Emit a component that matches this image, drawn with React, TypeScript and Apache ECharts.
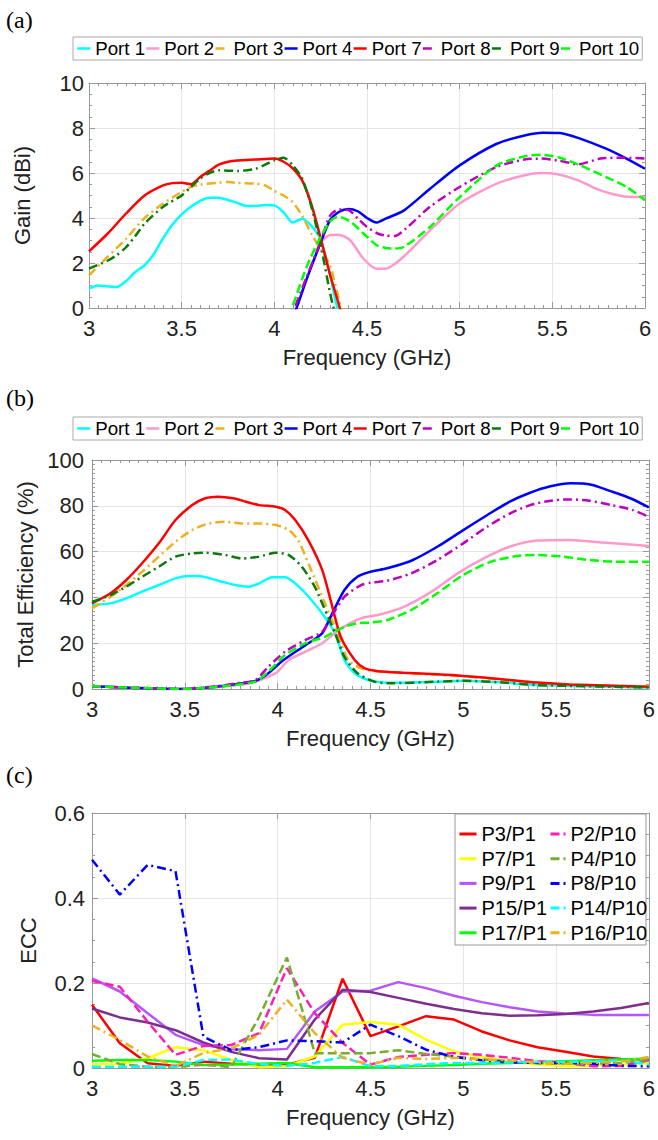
import React, { useEffect, useRef } from "react";
import * as echarts from "echarts";

const FONT = "'Liberation Sans', Arial, sans-serif";
const SERIF = "'Liberation Serif', 'Times New Roman', serif";
const AX = "#999999";
const GRIDC = "#e6e6e6";
const TXT = "#222222";

const PORTS = ["Port 1", "Port 2", "Port 3", "Port 4", "Port 7", "Port 8", "Port 9", "Port 10"];
const PORT_COLORS = ["#00FFFF", "#FF99CC", "#EDB120", "#0000FF", "#FF0000", "#BF00BF", "#0A7A0A", "#00FF00"];
const DASHED = [9, 4];
const DASHDOT = [9, 4, 2, 4];
const PORT_DASH: any[] = ["solid", "solid", DASHDOT, "solid", "solid", DASHDOT, DASHDOT, DASHED];

// ---------- (a) Gain (dBi) ----------
const gP1F = [3.0, 3.05, 3.1, 3.15, 3.2, 3.25, 3.3, 3.35, 3.4, 3.45, 3.5, 3.55, 3.6, 3.65, 3.7, 3.75, 3.8, 3.85, 3.9, 3.95, 4.0, 4.05, 4.1, 4.15, 4.2, 4.25, 4.3, 4.34, 4.4];
const gP1V = [0.86, 1.0, 0.96, 0.93, 1.2, 1.6, 1.9, 2.4, 3.1, 3.7, 4.16, 4.5, 4.76, 4.9, 4.9, 4.8, 4.67, 4.53, 4.53, 4.58, 4.56, 4.25, 3.8, 3.97, 3.65, 3.05, 1.5, 0.0, -1.5];
const gP2F = [4.05, 4.12, 4.175, 4.25, 4.3, 4.345, 4.41, 4.48, 4.55, 4.6, 4.64, 4.7, 4.84, 5.0, 5.2, 5.35, 5.44, 5.53, 5.64, 5.76, 5.89, 6.0];
const gP2V = [-1.5, 0.0, 1.3, 2.9, 3.24, 3.26, 3.0, 2.2, 1.75, 1.75, 1.9, 2.3, 3.45, 4.64, 5.53, 5.9, 6.0, 5.94, 5.67, 5.23, 4.96, 4.93];
const gP3F = [3.0, 3.1, 3.2, 3.3, 3.4, 3.5, 3.55, 3.6, 3.7, 3.75, 3.8, 3.9, 3.95, 4.0, 4.05, 4.1, 4.15, 4.2, 4.25, 4.3, 4.36, 4.4];
const gP3V = [1.45, 2.27, 3.08, 4.0, 4.64, 5.16, 5.38, 5.48, 5.57, 5.6, 5.56, 5.53, 5.45, 5.2, 5.0, 4.7, 4.1, 3.3, 2.6, 1.9, 0.0, -1.2];
const gP4F = [4.05, 4.12, 4.175, 4.25, 4.3, 4.35, 4.4, 4.45, 4.5, 4.55, 4.6, 4.7, 4.84, 5.0, 5.2, 5.35, 5.45, 5.54, 5.65, 5.79, 5.9, 6.0];
const gP4V = [-1.5, 0.0, 1.3, 2.9, 3.9, 4.28, 4.4, 4.3, 4.0, 3.8, 3.97, 4.34, 5.3, 6.34, 7.3, 7.67, 7.79, 7.78, 7.53, 7.08, 6.64, 6.19];
const gP7F = [3.0, 3.1, 3.2, 3.3, 3.4, 3.45, 3.5, 3.55, 3.6, 3.65, 3.7, 3.75, 3.8, 3.9, 4.0, 4.05, 4.1, 4.15, 4.2, 4.25, 4.3, 4.35, 4.4];
const gP7V = [2.52, 3.3, 4.2, 5.0, 5.45, 5.55, 5.57, 5.5, 5.82, 6.1, 6.37, 6.5, 6.56, 6.6, 6.64, 6.5, 6.2, 5.67, 4.6, 3.1, 1.5, 0.1, -1.5];
const gP8F = [4.05, 4.11, 4.175, 4.25, 4.3, 4.35, 4.4, 4.46, 4.5, 4.56, 4.6, 4.65, 4.71, 4.84, 5.0, 5.2, 5.35, 5.44, 5.53, 5.64, 5.76, 5.89, 6.0];
const gP8V = [-1.5, 0.0, 1.4, 2.95, 4.1, 4.38, 4.35, 3.9, 3.6, 3.3, 3.22, 3.2, 3.53, 4.5, 5.38, 6.27, 6.6, 6.64, 6.56, 6.39, 6.64, 6.68, 6.64];
const gP9F = [3.0, 3.1, 3.15, 3.2, 3.25, 3.3, 3.4, 3.5, 3.55, 3.6, 3.65, 3.7, 3.8, 3.9, 3.95, 4.0, 4.05, 4.1, 4.15, 4.2, 4.25, 4.3, 4.32, 4.4];
const gP9V = [1.75, 2.1, 2.35, 2.7, 3.2, 3.75, 4.5, 5.0, 5.38, 5.75, 6.0, 6.12, 6.09, 6.19, 6.37, 6.56, 6.68, 6.34, 5.75, 4.5, 2.8, 0.7, 0.0, -2.0];
const gP10F = [4.03, 4.095, 4.175, 4.24, 4.3, 4.345, 4.41, 4.48, 4.55, 4.6, 4.65, 4.7, 4.84, 5.0, 5.2, 5.35, 5.44, 5.54, 5.65, 5.79, 5.9, 6.0];
const gP10V = [-1.5, 0.0, 1.84, 3.0, 3.84, 4.06, 3.84, 3.32, 2.8, 2.67, 2.64, 2.72, 3.6, 4.93, 6.34, 6.74, 6.81, 6.68, 6.34, 5.82, 5.38, 4.79];

// ---------- (b) Total efficiency (%) ----------
const eP1F = [3.0, 3.1, 3.185, 3.27, 3.36, 3.45, 3.52, 3.57, 3.68, 3.77, 3.845, 3.9, 3.97, 4.04, 4.095, 4.15, 4.24, 4.31, 4.36, 4.415, 4.49, 4.59, 4.86, 5.0, 5.22, 5.4, 6.0];
const eP1V = [36.7, 37.4, 39.6, 42.5, 45.4, 48.3, 49.3, 49.3, 47.3, 45.4, 44.7, 46.1, 48.8, 48.8, 46.1, 41.8, 33, 24.3, 12.7, 6.9, 3.9, 2.7, 3.2, 3.6, 2.8, 1.7, 0.7];
const eP2F = [3.0, 3.2, 3.49, 3.67, 3.845, 3.99, 4.06, 4.15, 4.24, 4.33, 4.45, 4.54, 4.68, 4.83, 4.97, 5.11, 5.25, 5.4, 5.57, 5.75, 6.0];
const eP2V = [1.2, 0.6, 0.0, 0.8, 2.5, 6.9, 12.7, 16.3, 20, 25.8, 30.9, 32.3, 35.9, 42.5, 50.5, 57, 62.1, 64.8, 65.1, 64, 62.4];
const eP3F = [3.0, 3.1, 3.185, 3.27, 3.36, 3.45, 3.54, 3.63, 3.72, 3.81, 3.9, 3.99, 4.06, 4.11, 4.17, 4.255, 4.33, 4.38, 4.45, 4.54, 4.68, 4.86, 5.0, 5.22, 5.4, 5.57, 6.0];
const eP3V = [35.2, 40.3, 45.4, 51.2, 57.8, 64.3, 69.4, 72.3, 73, 72.3, 72.3, 71.6, 69.4, 65, 54, 37.4, 22.8, 12.7, 9, 7.8, 7.0, 6.2, 5.5, 4.0, 2.7, 1.9, 1.0];
const eP4F = [3.0, 3.2, 3.49, 3.67, 3.79, 3.88, 3.95, 4.02, 4.11, 4.18, 4.24, 4.29, 4.36, 4.43, 4.5, 4.59, 4.72, 4.86, 5.0, 5.13, 5.25, 5.36, 5.47, 5.58, 5.69, 5.79, 5.9, 6.0];
const eP4V = [1.2, 0.6, 0.0, 1.0, 2.3, 3.5, 6.9, 11.9, 17, 20.7, 24.3, 32.3, 43.2, 49, 51.2, 52.7, 56, 62.1, 69.4, 76, 81.8, 85.7, 88.5, 89.8, 89.2, 86.5, 83.3, 79.3];
const eP7F = [3.0, 3.1, 3.185, 3.27, 3.36, 3.45, 3.54, 3.61, 3.68, 3.76, 3.83, 3.9, 3.99, 4.04, 4.095, 4.165, 4.24, 4.29, 4.34, 4.415, 4.47, 4.54, 4.68, 4.86, 5.0, 5.22, 5.4, 5.57, 6.0];
const eP7V = [37.4, 41.8, 47.6, 54.9, 63.6, 73.8, 80.3, 83.3, 84, 83.3, 81.8, 80.3, 79.6, 78.2, 73.8, 65, 52, 37.4, 22.8, 12.7, 9, 7.8, 7.1, 6.4, 5.7, 4.2, 2.8, 2.0, 1.0];
const eP8F = [3.0, 3.2, 3.49, 3.67, 3.79, 3.88, 3.95, 4.04, 4.15, 4.24, 4.29, 4.36, 4.45, 4.5, 4.59, 4.72, 4.86, 5.0, 5.13, 5.25, 5.36, 5.47, 5.57, 5.68, 5.8, 5.91, 6.0];
const eP8V = [1.2, 0.6, 0.0, 1.2, 2.6, 3.9, 9.7, 16.3, 21.4, 25, 31.6, 40.3, 45.4, 46.4, 47.3, 50.5, 56.3, 63.6, 70.9, 76.6, 80.3, 82.2, 82.8, 82.2, 80.3, 78.2, 75.2];
const eP9F = [3.0, 3.1, 3.185, 3.27, 3.36, 3.45, 3.54, 3.61, 3.72, 3.81, 3.9, 3.99, 4.06, 4.13, 4.2, 4.24, 4.31, 4.36, 4.43, 4.52, 4.59, 4.86, 5.0, 5.22, 5.4, 6.0];
const eP9V = [38, 41, 44.7, 49, 53.4, 57.8, 59.2, 59.5, 58.5, 57, 57.8, 59.5, 58.5, 53.4, 44.7, 37.4, 24.3, 14, 6.9, 3.2, 2.5, 3.2, 3.6, 2.8, 1.7, 0.7];
const eP10F = [3.0, 3.2, 3.49, 3.67, 3.79, 3.88, 3.95, 4.04, 4.15, 4.255, 4.36, 4.43, 4.5, 4.59, 4.72, 4.86, 5.0, 5.15, 5.29, 5.4, 5.54, 5.68, 5.82, 6.0];
const eP10V = [1.2, 0.6, 0.0, 0.9, 2.0, 3.2, 7.6, 14.8, 20, 22.8, 27.2, 28.7, 29, 30.1, 34.5, 41.8, 49.8, 55.6, 58.1, 58.5, 57.8, 56.3, 55.6, 55.6];

// ---------- (c) ECC ----------
const eccFreq = [3.0, 3.15, 3.3, 3.45, 3.6, 3.75, 3.9, 4.05, 4.2, 4.35, 4.5, 4.65, 4.8, 4.95, 5.1, 5.25, 5.4, 5.55, 5.7, 5.85, 6.0];
const eccP3P1 = [0.149, 0.058, 0.011, 0.005, 0.015, 0.01, 0.008, 0.008, 0.024, 0.21, 0.075, 0.098, 0.122, 0.114, 0.086, 0.065, 0.049, 0.038, 0.027, 0.021, 0.02];
const eccP7P1 = [0.009, 0.01, 0.023, 0.049, 0.042, 0.019, 0.002, 0.004, 0.027, 0.102, 0.108, 0.102, 0.067, 0.039, 0.026, 0.016, 0.008, 0.004, 0.005, 0.008, 0.012];
const eccP9P1 = [0.211, 0.18, 0.129, 0.078, 0.054, 0.044, 0.042, 0.045, 0.133, 0.18, 0.182, 0.202, 0.188, 0.17, 0.155, 0.143, 0.133, 0.128, 0.125, 0.125, 0.125];
const eccP15P1 = [0.14, 0.119, 0.107, 0.089, 0.06, 0.038, 0.023, 0.02, 0.114, 0.184, 0.179, 0.165, 0.151, 0.139, 0.129, 0.123, 0.124, 0.127, 0.133, 0.141, 0.153];
const eccP17P1 = [0.017, 0.019, 0.019, 0.015, 0.007, 0.008, 0.01, 0.012, 0.002, 0.002, 0.002, 0.003, 0.005, 0.007, 0.01, 0.012, 0.014, 0.016, 0.018, 0.02, 0.022];
const eccP2P10 = [0.205, 0.191, 0.109, 0.031, 0.052, 0.054, 0.082, 0.235, 0.129, 0.059, 0.008, 0.026, 0.031, 0.035, 0.031, 0.024, 0.016, 0.012, 0.004, 0.005, 0.018];
const eccP4P10 = [0.033, 0.009, 0.003, 0.002, 0.008, 0.002, 0.12, 0.26, 0.035, 0.035, 0.035, 0.042, 0.033, 0.027, 0.02, 0.016, 0.012, 0.01, 0.01, 0.012, 0.02];
const eccP8P10 = [0.49, 0.408, 0.478, 0.463, 0.074, 0.042, 0.049, 0.065, 0.063, 0.06, 0.102, 0.075, 0.043, 0.026, 0.018, 0.013, 0.012, 0.012, 0.01, 0.005, 0.004];
const eccP14P10 = [0.003, 0.003, 0.003, 0.003, 0.019, 0.02, 0.009, 0.005, 0.012, 0.026, 0.004, 0.005, 0.009, 0.012, 0.012, 0.013, 0.014, 0.014, 0.016, 0.018, 0.008];
const eccP16P10 = [0.1, 0.066, 0.027, 0.005, 0.035, 0.046, 0.078, 0.161, 0.082, 0.024, 0.008, 0.024, 0.021, 0.024, 0.02, 0.018, 0.013, 0.01, 0.012, 0.015, 0.026];

const ECC_COL1 = ["P3/P1", "P7/P1", "P9/P1", "P15/P1", "P17/P1"];
const ECC_COL2 = ["P2/P10", "P4/P10", "P8/P10", "P14/P10", "P16/P10"];
const ECC_VALUES = [eccP3P1, eccP7P1, eccP9P1, eccP15P1, eccP17P1, eccP2P10, eccP4P10, eccP8P10, eccP14P10, eccP16P10];
const ECC_COLORS = ["#FF0000", "#FFFF00", "#B455FF", "#7E2F8E", "#00FF00", "#FF1DB4", "#77AC30", "#0000FF", "#00FFFF", "#EDB120"];
const ECC_DASH: any[] = ["solid", "solid", "solid", "solid", "solid", DASHED, DASHED, DASHDOT, DASHED, DASHDOT];

const GAIN_DATA = [[gP1F, gP1V], [gP2F, gP2V], [gP3F, gP3V], [gP4F, gP4V], [gP7F, gP7V], [gP8F, gP8V], [gP9F, gP9V], [gP10F, gP10V]];
const EFF_DATA = [[eP1F, eP1V], [eP2F, eP2V], [eP3F, eP3V], [eP4F, eP4V], [eP7F, eP7V], [eP8F, eP8V], [eP9F, eP9V], [eP10F, eP10V]];

const pairs = (f: number[], v: number[]) => f.map((x, i) => [x, v[i]]);

const GRIDS = [
  { left: 89, top: 83, width: 556, height: 225 },
  { left: 92, top: 460, width: 561, height: 229 },
  { left: 92, top: 813, width: 559, height: 255 },
];
const YCFG = [
  { min: 0, max: 10, interval: 2, name: "Gain (dBi)", gap: 56, margin: 5, minorSplit: 4 },
  { min: 0, max: 100, interval: 20, name: "Total Efficiency (%)", gap: 54, margin: 8, minorSplit: 10 },
  { min: 0, max: 0.6, interval: 0.2, name: "ECC", gap: 53, margin: 7, minorSplit: 4 },
];

function buildOption() {
  const xAxis: any[] = [];
  const yAxis: any[] = [];
  const tickLine = { color: AX, width: 1 };
  GRIDS.forEach((_, g) => {
    const xMinor = g < 2;
    xAxis.push({
      gridIndex: g, type: "value", min: 3, max: 6, interval: 0.5, position: "bottom",
      axisLine: { show: true, onZero: false, lineStyle: tickLine },
      axisTick: { show: true, inside: true, length: 6, lineStyle: tickLine },
      minorTick: { show: xMinor, splitNumber: 10, length: 3, lineStyle: tickLine },
      axisLabel: { fontSize: 22, color: TXT, margin: 9, fontFamily: FONT },
      splitLine: { show: true, lineStyle: { color: GRIDC, width: 1 } },
      name: "Frequency (GHz)", nameLocation: "middle", nameGap: 38,
      nameTextStyle: { fontSize: 22, color: TXT, fontFamily: FONT },
    });
    xAxis.push({
      gridIndex: g, type: "value", min: 3, max: 6, interval: 0.5, position: "top",
      axisLine: { show: true, onZero: false, lineStyle: tickLine },
      axisTick: { show: true, inside: true, length: 6, lineStyle: tickLine },
      minorTick: { show: xMinor, splitNumber: 10, length: 3, lineStyle: tickLine },
      axisLabel: { show: false }, splitLine: { show: false },
    });
    const c = YCFG[g];
    yAxis.push({
      gridIndex: g, type: "value", min: c.min, max: c.max, interval: c.interval, position: "left",
      axisLine: { show: true, onZero: false, lineStyle: tickLine },
      axisTick: { show: true, inside: true, length: 6, lineStyle: tickLine },
      minorTick: { show: true, splitNumber: c.minorSplit, length: 3, lineStyle: tickLine },
      axisLabel: { fontSize: 22, color: TXT, margin: c.margin, fontFamily: FONT },
      splitLine: { show: true, lineStyle: { color: GRIDC, width: 1 } },
      name: c.name, nameLocation: "middle", nameGap: c.gap, nameRotate: 90,
      nameTextStyle: { fontSize: 22, color: TXT, fontFamily: FONT },
    });
    yAxis.push({
      gridIndex: g, type: "value", min: c.min, max: c.max, interval: c.interval, position: "right",
      axisLine: { show: true, onZero: false, lineStyle: tickLine },
      axisTick: { show: true, inside: true, length: 6, lineStyle: tickLine },
      minorTick: { show: true, splitNumber: c.minorSplit, length: 3, lineStyle: tickLine },
      axisLabel: { show: false }, splitLine: { show: false },
    });
  });

  const series: any[] = [];
  GAIN_DATA.forEach(([f, v], i) => {
    series.push({
      name: PORTS[i], type: "line", xAxisIndex: 0, yAxisIndex: 0, data: pairs(f, v),
      showSymbol: false, symbol: "none", smooth: 0.25, clip: true,
      lineStyle: { color: PORT_COLORS[i], width: 2.5, type: PORT_DASH[i] },
      itemStyle: { color: PORT_COLORS[i] },
    });
  });
  EFF_DATA.forEach(([f, v], i) => {
    series.push({
      name: PORTS[i], type: "line", xAxisIndex: 2, yAxisIndex: 2, data: pairs(f, v),
      showSymbol: false, symbol: "none", smooth: 0.25, clip: true,
      lineStyle: { color: PORT_COLORS[i], width: 2.5, type: PORT_DASH[i] },
      itemStyle: { color: PORT_COLORS[i] },
    });
  });
  const eccNames = [...ECC_COL1, ...ECC_COL2];
  eccNames.forEach((n, i) => {
    series.push({
      name: n, type: "line", xAxisIndex: 4, yAxisIndex: 4, data: pairs(eccFreq, ECC_VALUES[i]),
      showSymbol: false, symbol: "none", clip: true,
      lineStyle: { color: ECC_COLORS[i], width: 2.5, type: ECC_DASH[i] },
      itemStyle: { color: ECC_COLORS[i] },
    });
  });

  const hiddenSymbol = { opacity: 0, borderWidth: 0, color: "rgba(0,0,0,0)" };
  const portLegend = (top: number) => ({
    data: PORTS, left: 73, top, orient: "horizontal", itemWidth: 13, itemHeight: 10, itemGap: 0,
    padding: [2, 3], borderColor: "#aaaaaa", borderWidth: 1, backgroundColor: "#ffffff",
    selectedMode: false, itemStyle: hiddenSymbol, lineStyle: { width: 2.5 },
    textStyle: { fontSize: 18.7, color: "#000", fontFamily: FONT },
  });
  const eccLegend = (names: string[], left: number, w: number) => ({
    data: names, left, top: 824, orient: "vertical", itemWidth: w, itemHeight: 10, itemGap: 4.7,
    padding: 0, selectedMode: false, itemStyle: hiddenSymbol, lineStyle: { width: 3 },
    textStyle: { fontSize: 20, color: "#000", fontFamily: FONT, lineHeight: 20 },
  });

  return {
    animation: false,
    backgroundColor: "#ffffff",
    grid: GRIDS.map((g) => ({ ...g, containLabel: false })),
    xAxis, yAxis, series,
    legend: [portLegend(37), portLegend(417), eccLegend(ECC_COL1, 458, 17), eccLegend(ECC_COL2, 549, 15)],
    graphic: [
      { type: "text", left: 6, top: 8, style: { text: "(a)", font: `24px ${SERIF}`, fill: "#000" } },
      { type: "text", left: 6, top: 386, style: { text: "(b)", font: `24px ${SERIF}`, fill: "#000" } },
      { type: "text", left: 6, top: 763, style: { text: "(c)", font: `24px ${SERIF}`, fill: "#000" } },
      { type: "rect", shape: { x: 455, y: 814, width: 191, height: 131 }, style: { fill: "#ffffff", stroke: "#999999", lineWidth: 1 }, z: 4 },
    ],
  };
}

export default function App() {
  const ref = useRef<HTMLDivElement>(null);
  useEffect(() => {
    if (!ref.current) return;
    const chart = echarts.init(ref.current, undefined, { renderer: "svg" });
    chart.setOption(buildOption() as any);
    return () => chart.dispose();
  }, []);
  return <div ref={ref} style={{ position: "absolute", left: 0, top: 0, width: 658, height: 1140 }} />;
}
